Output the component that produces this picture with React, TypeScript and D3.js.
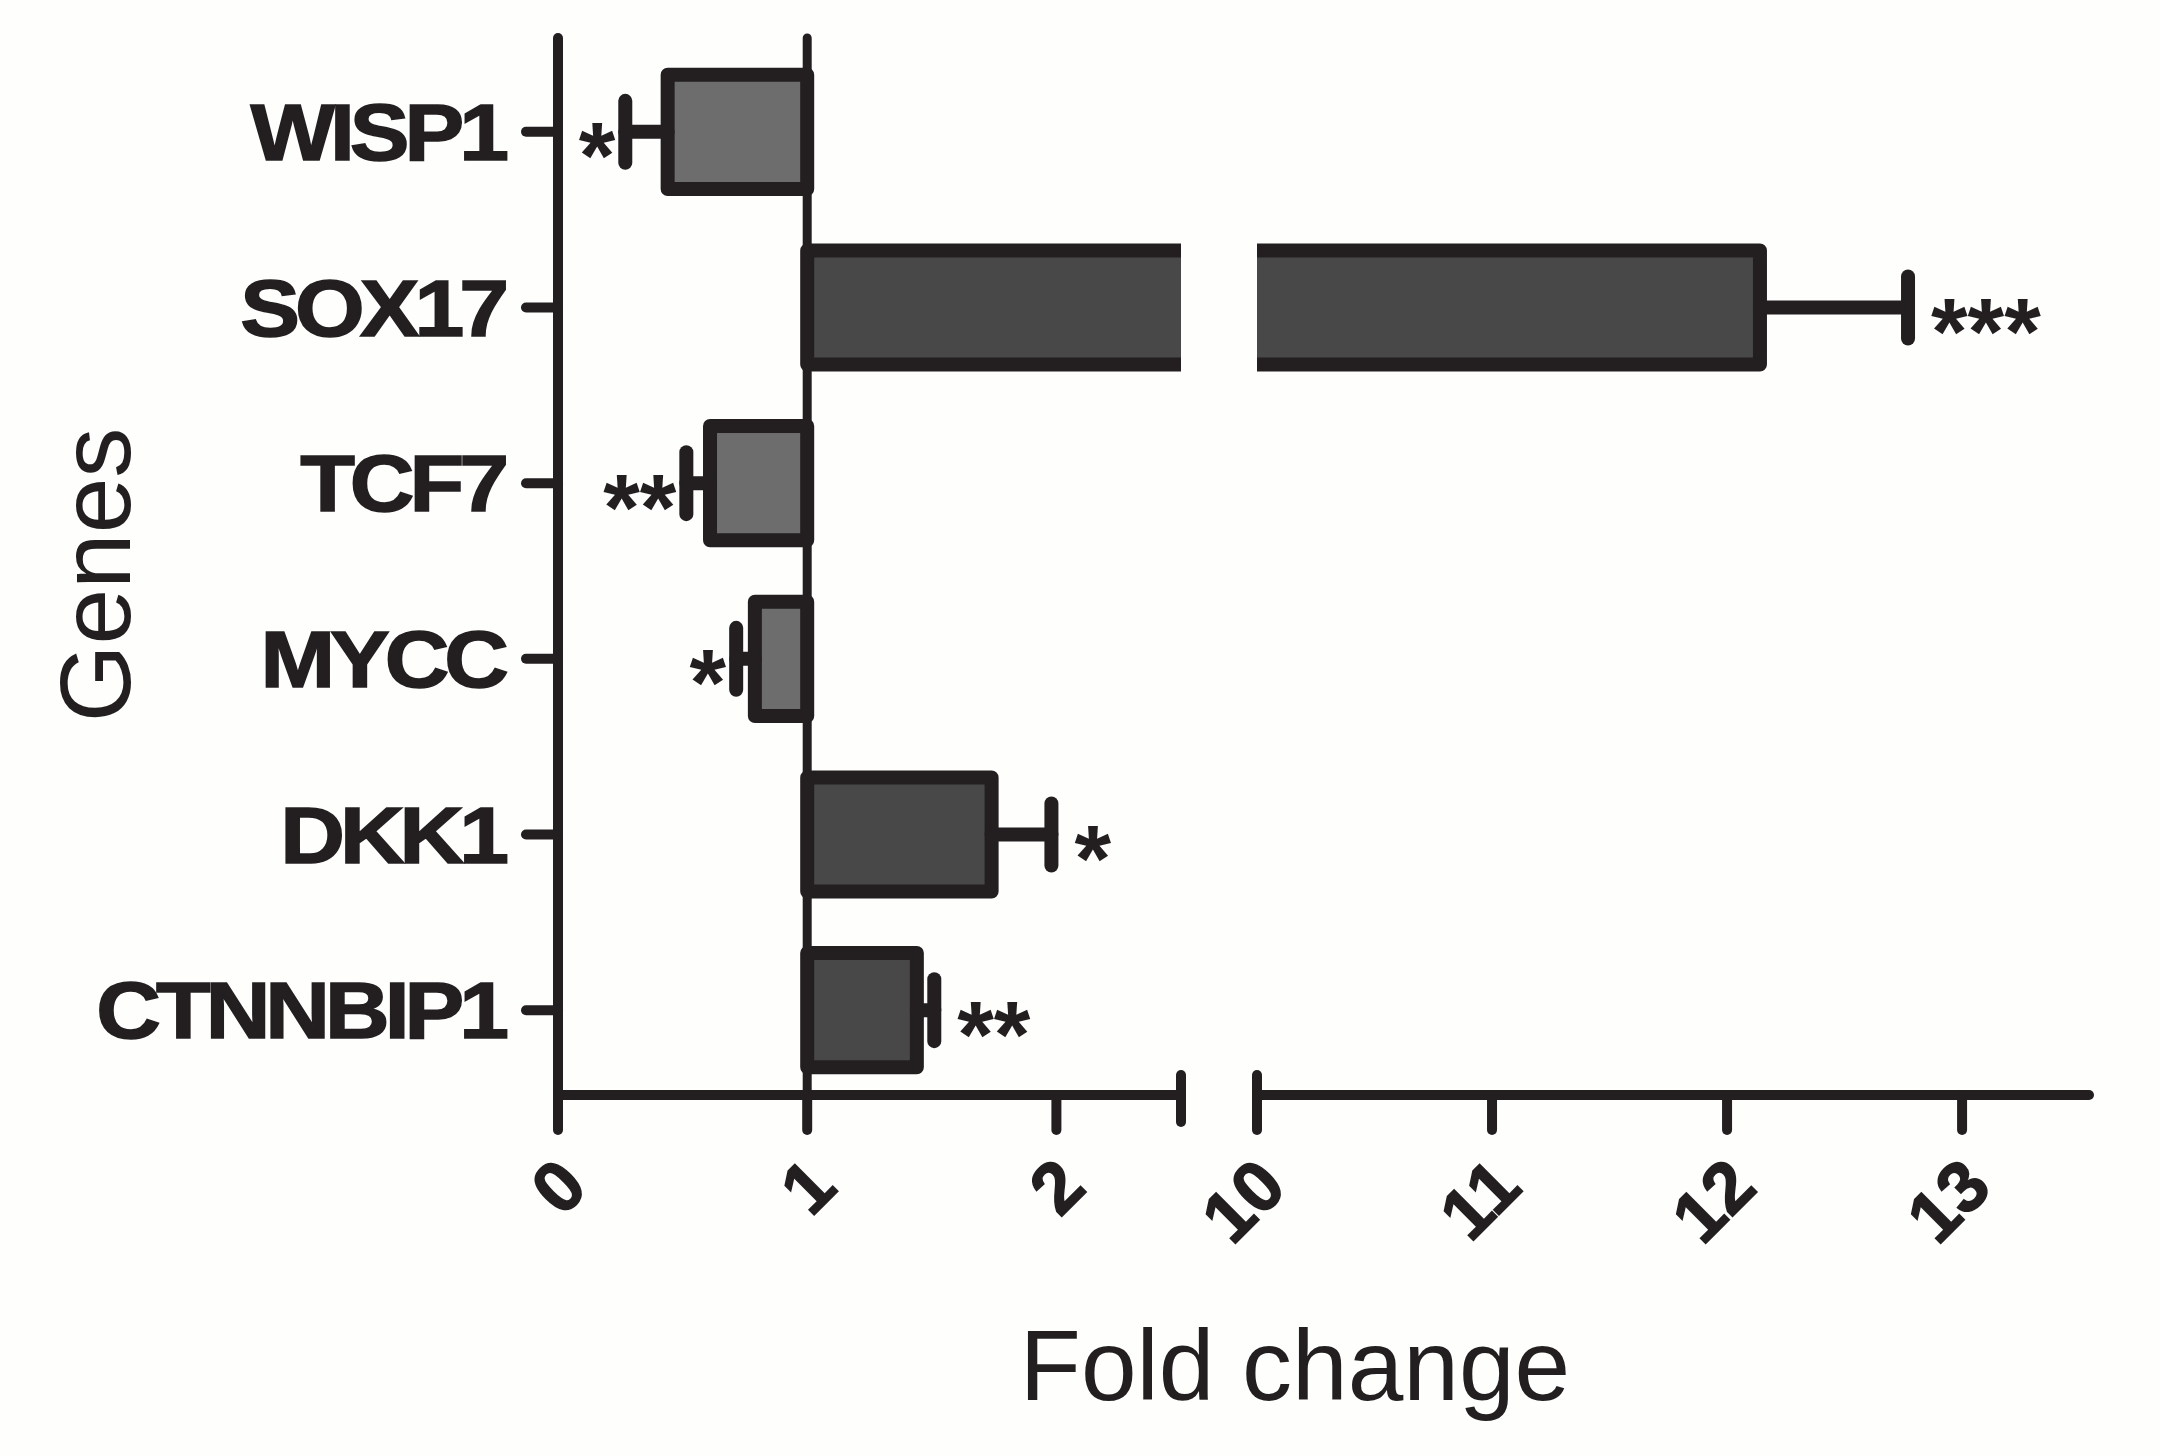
import React from "react";
import * as d3 from "d3";

// ---- data ----
const genes = ["WISP1", "SOX17", "TCF7", "MYCC", "DKK1", "CTNNBIP1"];
const foldChange = [0.44, 12.14, 0.61, 0.79, 1.74, 1.44];
const errorSEM = [0.17, 0.63, 0.095, 0.075, 0.24, 0.07];
const significance = ["*", "***", "**", "*", "*", "**"];
const leftTicks = [0, 1, 2];
const rightTicks = [10, 11, 12, 13];
const xTitle = "Fold change";
const yTitle = "Genes";

// ---- layout / style ----
const W = 2160;
const H = 1456;
const BASELINE = 1;
const BREAK_LO = 2.5;
const BREAK_HI = 10;
const X_MAX = 13.54;
const INK = "#231f20";
const LIGHT = "#6d6d6d";
const DARK = "#484848";
const FONT = "'Liberation Sans', Arial, Helvetica, sans-serif";

export default function App() {
  const xL = d3.scaleLinear().domain([0, BREAK_LO]).range([558, 1181]);
  const xR = d3.scaleLinear().domain([BREAK_HI, X_MAX]).range([1257, 2089]);
  const x = (v: number) => (v <= BREAK_LO ? xL(v) : xR(v));
  const y = d3
    .scaleBand<string>()
    .domain(genes)
    .range([44, 1098])
    .paddingInner(0.27)
    .paddingOuter(0.135);
  const bw = y.bandwidth();
  const axisY = 1095;
  const axisTop = 38;
  const sw = 14;
  const axisW = 10;
  const capHalf = 31;

  const bars = genes.map((g, i) => {
    const v = foldChange[i];
    const e = errorSEM[i];
    const y0 = (y(g) as number) + sw / 2;
    const y1 = (y(g) as number) + bw - sw / 2;
    const yc = (y(g) as number) + bw / 2;
    const down = v < BASELINE;
    const tip = down ? v - e : v + e;
    return { g, v, e, y0, y1, yc, down, tip, star: significance[i] };
  });

  return (
    <svg
      width={W}
      height={H}
      viewBox={`0 0 ${W} ${H}`}
      style={{ position: "absolute", left: 0, top: 0, background: "#fefefd" }}
    >
      <rect x={0} y={0} width={W} height={H} fill="#fefefd" />

      {/* reference line at fold change = 1 */}
      <line
        x1={x(BASELINE)}
        x2={x(BASELINE)}
        y1={axisTop}
        y2={axisY}
        stroke={INK}
        strokeWidth={9}
        strokeLinecap="round"
      />

      {/* bars */}
      {bars.map((b) => {
        const fill = b.down ? LIGHT : DARK;
        if (b.v <= BREAK_LO) {
          const a = Math.min(x(BASELINE), x(b.v));
          const c = Math.max(x(BASELINE), x(b.v));
          return (
            <rect
              key={b.g}
              x={a}
              y={b.y0}
              width={c - a}
              height={b.y1 - b.y0}
              fill={fill}
              stroke={INK}
              strokeWidth={sw}
              strokeLinejoin="round"
            />
          );
        }
        const p = d3.path();
        p.moveTo(xL(BREAK_LO), b.y0);
        p.lineTo(x(BASELINE), b.y0);
        p.lineTo(x(BASELINE), b.y1);
        p.lineTo(xL(BREAK_LO), b.y1);
        const q = d3.path();
        q.moveTo(xR(BREAK_HI), b.y0);
        q.lineTo(xR(b.v), b.y0);
        q.lineTo(xR(b.v), b.y1);
        q.lineTo(xR(BREAK_HI), b.y1);
        return (
          <g key={b.g}>
            <rect
              x={x(BASELINE)}
              y={b.y0}
              width={xL(BREAK_LO) - x(BASELINE)}
              height={b.y1 - b.y0}
              fill={fill}
            />
            <rect
              x={xR(BREAK_HI)}
              y={b.y0}
              width={xR(b.v) - xR(BREAK_HI)}
              height={b.y1 - b.y0}
              fill={fill}
            />
            <path d={p.toString()} fill="none" stroke={INK} strokeWidth={sw} strokeLinejoin="round" />
            <path d={q.toString()} fill="none" stroke={INK} strokeWidth={sw} strokeLinejoin="round" />
          </g>
        );
      })}

      {/* error bars */}
      {bars.map((b) => (
        <g key={"e" + b.g} stroke={INK} strokeWidth={sw} strokeLinecap="round">
          <line x1={x(b.v)} x2={x(b.tip)} y1={b.yc} y2={b.yc} />
          <line x1={x(b.tip)} x2={x(b.tip)} y1={b.yc - capHalf} y2={b.yc + capHalf} />
        </g>
      ))}

      {/* significance stars */}
      {bars.map((b) => (
        <text
          key={"s" + b.g}
          x={b.down ? x(b.tip) - 10 : x(b.tip) + 23}
          y={b.yc}
          dy="0.6em"
          textAnchor={b.down ? "end" : "start"}
          fontFamily={FONT}
          fontWeight="bold"
          fontSize={94}
          fill={INK}
        >
          {b.star}
        </text>
      ))}

      {/* y axis */}
      <line
        x1={xL(0)}
        x2={xL(0)}
        y1={axisTop}
        y2={axisY}
        stroke={INK}
        strokeWidth={axisW}
        strokeLinecap="round"
      />
      {bars.map((b) => (
        <line
          key={"yt" + b.g}
          x1={xL(0) - 32}
          x2={xL(0)}
          y1={b.yc}
          y2={b.yc}
          stroke={INK}
          strokeWidth={axisW}
          strokeLinecap="round"
        />
      ))}
      {bars.map((b) => (
        <text
          key={"yl" + b.g}
          transform={`translate(504, ${b.yc}) scale(1.12, 1)`}
          textAnchor="end"
          dy="0.35em"
          fontFamily={FONT}
          fontWeight="bold"
          fontSize={80}
          letterSpacing={-4.5}
          fill={INK}
          stroke={INK}
          strokeWidth={1.5}
        >
          {b.g}
        </text>
      ))}

      {/* x axis (broken) */}
      <g stroke={INK} strokeWidth={axisW} strokeLinecap="round" fill="none">
        <line x1={xL(0)} x2={xL(BREAK_LO)} y1={axisY} y2={axisY} />
        <line x1={xR(BREAK_HI)} x2={xR(X_MAX)} y1={axisY} y2={axisY} />
        <line x1={xL(BREAK_LO)} x2={xL(BREAK_LO)} y1={axisY - 20} y2={axisY + 27} />
        <line x1={xR(BREAK_HI)} x2={xR(BREAK_HI)} y1={axisY - 20} y2={axisY + 27} />
        {leftTicks.map((t) => (
          <line key={"lt" + t} x1={xL(t)} x2={xL(t)} y1={axisY} y2={axisY + 35} />
        ))}
        {rightTicks.map((t) => (
          <line key={"rt" + t} x1={xR(t)} x2={xR(t)} y1={axisY} y2={axisY + 35} />
        ))}
      </g>
      {[...leftTicks, ...rightTicks].map((t) => (
        <text
          key={"xl" + t}
          transform={`translate(${x(t) + 32}, ${axisY + 95}) rotate(-45)`}
          textAnchor="end"
          fontFamily={FONT}
          fontWeight="bold"
          fontSize={72}
          fill={INK}
          stroke={INK}
          strokeWidth={1.5}
        >
          {t}
        </text>
      ))}

      {/* titles */}
      <text
        x={1295}
        y={1400}
        textAnchor="middle"
        fontFamily={FONT}
        fontSize={100}
        fill={INK}
      >
        {xTitle}
      </text>
      <text
        transform={`translate(130, 575) rotate(-90)`}
        textAnchor="middle"
        fontFamily={FONT}
        fontSize={100}
        fill={INK}
      >
        {yTitle}
      </text>
    </svg>
  );
}
